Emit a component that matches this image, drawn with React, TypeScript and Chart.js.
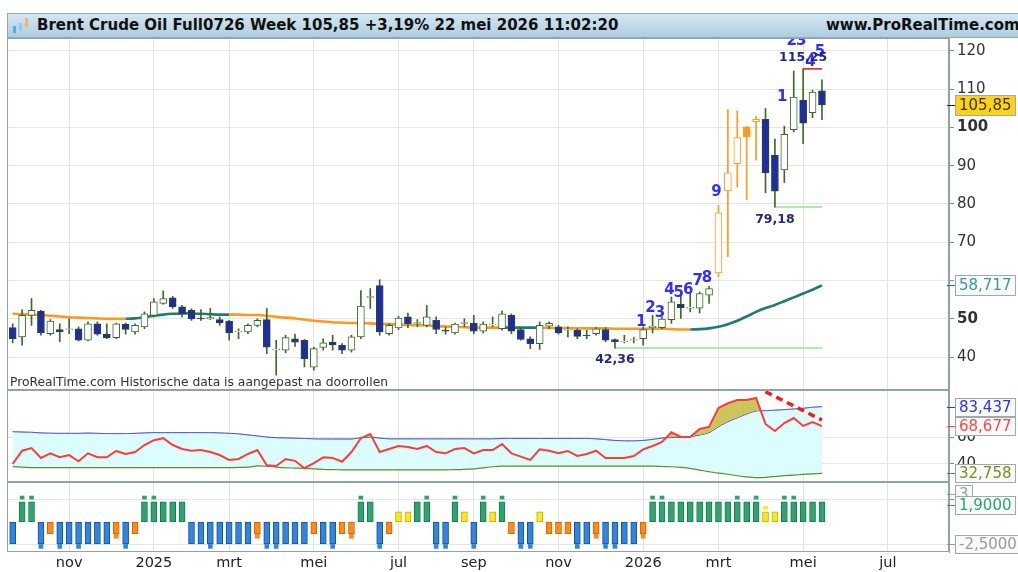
import React, { useEffect, useRef } from 'react';
import { Chart, registerables } from 'chart.js';

Chart.register(...registerables);

const FONT = "'DejaVu Sans', 'Liberation Sans', sans-serif";

// ---------- time axis (weekly bars) ----------
const firstWeek = Date.UTC(2024, 8, 23);
const slotCount = 100;
const monthNames = ['jan', 'feb', 'mrt', 'apr', 'mei', 'jun', 'jul', 'aug', 'sep', 'okt', 'nov', 'dec'];
const weekDates = Array.from({ length: slotCount }, (_, i) => new Date(firstWeek + i * 7 * 86400000));
const weekLabels = weekDates.map((d) => d.toISOString().slice(0, 10));

// ---------- price (weekly OHLC) ----------
const opens = [47.7, 45.3, 50.9, 52.0, 46.1, 47.2, 47.2, 47.4, 44.4, 48.7,
  46.0, 45.1, 48.6, 46.6, 47.9, 50.9, 54.0, 55.5, 53.1, 52.2,
  50.2, 50.0, 49.8, 49.4, 46.6, 46.6, 48.3, 49.8, 41.9, 41.8,
  44.8, 44.4, 37.4, 42.5, 43.9, 43.1, 41.8, 45.3, 55.6, 58.7,
  46.1, 47.6, 50.5, 48.8, 48.3, 49.6, 47.0, 46.3, 48.8, 48.9,
  46.8, 48.4, 47.4, 50.9, 47.2, 44.8, 43.5, 48.1, 47.9, 47.0,
  47.0, 45.7, 46.1, 47.2, 44.6, 44.0, 44.4, 44.8, 47.7, 47.7,
  49.8, 53.8, 52.8, 52.8, 56.2, 62.0, 83.4, 90.5, 100.1, 101.5,
  102.1, 92.7, 88.9, 99.4, 107.1, 103.8, 109.5];
const highs = [48.7, 52.4, 55.3, 52.2, 49.8, 48.7, 50.0, 47.9, 49.2, 49.2,
  48.7, 48.9, 48.9, 48.7, 51.8, 55.3, 57.3, 55.9, 53.5, 52.6,
  52.4, 52.7, 50.5, 49.6, 47.4, 48.7, 50.0, 52.7, 44.4, 45.7,
  46.0, 44.6, 42.6, 44.8, 45.7, 43.5, 45.7, 57.4, 57.9, 60.2,
  48.7, 50.7, 51.5, 49.8, 53.5, 50.5, 47.9, 48.9, 50.0, 50.9,
  49.2, 50.5, 52.0, 51.3, 47.7, 45.3, 49.2, 49.2, 48.3, 47.9,
  47.4, 47.0, 47.7, 47.7, 44.8, 45.7, 45.2, 47.9, 50.9, 50.5,
  55.7, 56.6, 56.6, 57.0, 58.5, 79.6, 104.6, 104.3, 100.3, 102.9,
  104.9, 96.9, 100.3, 114.7, 115.25, 109.7, 112.4];
const lows = [43.7, 43.1, 48.3, 45.7, 45.7, 44.0, 46.1, 44.2, 44.2, 45.7,
  44.8, 44.8, 46.0, 46.0, 47.4, 50.5, 53.8, 52.7, 50.5, 49.6,
  49.6, 49.8, 48.3, 44.4, 44.8, 46.1, 47.9, 40.9, 35.3, 41.1,
  42.8, 37.4, 36.6, 41.8, 41.8, 40.9, 41.3, 44.8, 52.7, 45.7,
  45.7, 47.2, 47.7, 47.9, 47.9, 46.1, 46.0, 46.0, 47.9, 46.1,
  46.3, 47.9, 47.0, 46.1, 44.4, 42.2, 42.0, 47.4, 46.0, 45.3,
  44.8, 44.8, 45.7, 44.0, 42.36, 43.7, 43.7, 43.1, 46.3, 47.4,
  48.8, 50.1, 51.8, 51.5, 54.0, 60.9, 66.2, 84.4, 81.1, 91.4,
  82.9, 79.18, 85.6, 98.8, 95.7, 102.5, 102.0];
const closes = [44.8, 50.9, 52.2, 46.3, 49.4, 46.6, 47.4, 44.4, 48.7, 46.0,
  45.1, 48.7, 47.2, 48.3, 51.3, 54.4, 55.3, 53.1, 51.3, 50.0,
  50.0, 50.3, 48.9, 46.3, 46.8, 48.3, 49.6, 42.6, 42.1, 45.1,
  43.9, 39.6, 42.2, 43.7, 43.2, 41.8, 45.3, 53.3, 55.8, 46.6,
  48.3, 50.2, 48.7, 49.0, 50.5, 47.2, 46.8, 48.6, 49.0, 46.8,
  48.6, 48.6, 51.3, 46.8, 44.6, 43.5, 48.3, 48.8, 46.3, 47.2,
  45.4, 45.5, 47.4, 44.4, 44.0, 44.1, 44.6, 47.2, 48.1, 49.9,
  54.4, 52.9, 53.0, 56.6, 57.9, 77.7, 88.1, 97.3, 97.5, 102.1,
  88.1, 83.3, 98.2, 107.9, 101.1, 109.2, 105.85];
const exhaustionBars = [75, 76, 77, 78, 79];

// moving average and its trend colouring (1 = rising segment)
const movingAverage = [51.3, 51.2, 51.1, 51.0, 50.8, 50.6, 50.4, 50.3, 50.2, 50.1,
  50.0, 50.0, 50.0, 50.1, 50.4, 50.8, 51.1, 51.3, 51.4, 51.4,
  51.3, 51.2, 51.1, 51.1, 51.1, 51.0, 51.0, 50.8, 50.5, 50.3,
  50.1, 49.8, 49.5, 49.3, 49.1, 49.0, 48.9, 48.9, 48.8, 48.7,
  48.6, 48.5, 48.4, 48.3, 48.3, 48.1, 48.0, 47.9, 47.8, 47.7,
  47.7, 47.7, 47.7, 47.7, 47.7, 47.7, 47.7, 47.6, 47.6, 47.6,
  47.5, 47.5, 47.5, 47.5, 47.4, 47.4, 47.4, 47.4, 47.4, 47.4,
  47.3, 47.2, 47.2, 47.3, 47.5, 47.9, 48.6, 49.5, 50.6, 51.8,
  52.8, 53.6, 54.6, 55.6, 56.6, 57.6, 58.717];
const maRising = [0, 0, 0, 0, 0, 0, 0, 0, 0, 0,
  0, 0, 1, 1, 1, 1, 1, 1, 1, 1,
  1, 1, 1, 0, 0, 0, 0, 0, 0, 0,
  0, 0, 0, 0, 0, 0, 0, 0, 0, 0,
  0, 0, 0, 0, 0, 0, 0, 0, 0, 0,
  0, 0, 1, 1, 1, 1, 0, 0, 0, 0,
  0, 0, 0, 0, 0, 0, 0, 0, 0, 0,
  0, 0, 1, 1, 1, 1, 1, 1, 1, 1,
  1, 1, 1, 1, 1, 1, 0];

// TD-style counts above the candles
const countIdx = [67, 68, 69, 70, 71, 72, 73, 74, 75, 82, 83, 84, 85, 86];
const countText = ['1', '2', '3', '4', '5', '6', '7', '8', '9', '1', '2', '3', '4', '5'];
const countPrice = [49.2, 52.8, 51.6, 57.5, 56.6, 57.5, 59.9, 60.6, 83.1, 107.9, 122.6, 122.6, 117.0, 119.7];

// support / resistance levels
const levelFrom = [64, 81, 84];
const levelValue = [42.36, 79.18, 115.25];
const levelColor = ['#93e593', '#93e593', '#e23a3a'];
const levelLabelPrice = [39.2, 75.8, 118.2];

// ---------- RSI panel ----------
const rsi = [40, 50, 52, 44.5, 48, 45, 46.7, 42, 48, 45,
  45, 49.8, 47.5, 49, 54.3, 58, 59.5, 54.3, 51.3, 50,
  50.5, 49, 46.7, 43, 43.7, 47.5, 50.5, 39, 38.4, 43.7,
  42.3, 36.7, 40.5, 45, 44.5, 41.6, 49, 59.5, 62.7, 49,
  51.3, 53.6, 52.8, 51.3, 53.6, 49, 48, 51.3, 52, 48,
  50.5, 50.5, 55, 48, 45.5, 43, 51, 50, 48, 49.8,
  46, 47.5, 50, 44.5, 44.5, 44.5, 46, 51, 53.6, 56.6,
  64, 60.4, 60.4, 66.5, 68, 82.4, 86, 88.5, 88.5, 90,
  70.3, 65, 71, 74.8, 68.8, 71.8, 68.677];
const rsiUpper = [64.4, 64.2, 64.0, 63.5, 63.3, 63.2, 63.2, 63.2, 63.4, 63.2,
  63.0, 63.0, 63.0, 63.2, 63.5, 63.7, 63.7, 63.7, 63.7, 63.7,
  63.7, 63.7, 63.5, 63.2, 62.8, 62.0, 61.2, 60.4, 59.9, 59.7,
  59.5, 59.3, 59.0, 58.9, 58.9, 58.9, 58.9, 59.8, 60.3, 59.6,
  59.0, 59.0, 59.0, 59.0, 59.0, 59.0, 59.0, 59.0, 59.0, 59.0,
  59.0, 59.0, 59.3, 59.3, 59.3, 59.3, 59.3, 59.3, 59.3, 59.3,
  59.3, 59.3, 59.0, 58.4, 57.8, 57.5, 57.5, 57.8, 58.6, 59.6,
  60.0, 60.2, 60.8, 61.9, 63.7, 68.2, 72.0, 75.0, 77.9, 80.2,
  80.4, 80.8, 81.2, 81.7, 82.2, 83.0, 83.437];
const rsiLower = [37.9, 37.6, 37.1, 37.1, 37.1, 37.1, 37.1, 37.1, 37.1, 37.1,
  37.1, 37.1, 37.1, 37.1, 37.1, 37.1, 37.1, 37.1, 37.1, 37.1,
  37.1, 37.1, 37.1, 37.1, 37.3, 37.5, 38.5, 38.2, 37.5, 37.0,
  36.8, 36.6, 36.2, 35.8, 35.6, 35.5, 35.5, 35.5, 35.5, 35.5,
  35.5, 35.5, 35.5, 35.5, 35.5, 35.5, 35.5, 35.6, 35.8, 36.2,
  37.0, 37.8, 38.3, 38.3, 38.3, 38.3, 38.3, 38.3, 38.3, 38.3,
  38.3, 38.3, 38.3, 38.3, 38.3, 38.3, 38.3, 38.3, 38.3, 38.0,
  37.8, 37.3, 36.6, 35.3, 34.0, 33.0, 32.1, 31.0, 30.1, 29.5,
  29.8, 30.4, 31.0, 31.5, 32.0, 32.4, 32.758];
const divergenceIdx = [80, 86];
const divergenceValue = [94.8, 73.3];

// ---------- trend histogram panel ----------
const histValues = [-2.5, 2.3, 2.3, -2.5, -1.35, -2.5, -2.5, -2.5, -2.5, -2.5,
  -2.5, -1.35, -2.5, -1.35, 2.3, 2.3, 2.3, 2.3, 2.3, -2.5,
  -2.5, -2.5, -2.5, -2.5, -2.5, -2.5, -1.35, -2.5, -2.5, -2.5,
  -2.5, -2.5, -1.35, -2.5, -2.5, -1.35, -1.35, 2.3, 2.3, -2.5,
  -1.35, 1.15, 1.15, 2.3, 2.3, -2.5, -2.5, 2.3, 1.15, -2.5,
  2.3, 1.15, 2.3, -1.35, -2.5, -2.5, 1.15, -1.35, -1.35, -1.35,
  -2.5, -2.5, -1.35, -2.5, -2.5, -2.5, -2.5, -1.35, 2.3, 2.3,
  2.3, 2.3, 2.3, 2.3, 2.3, 2.3, 2.3, 2.3, 2.3, 2.3,
  1.15, 1.15, 2.3, 2.3, 2.3, 2.3, 2.3];
const histMarks = [0, 1, 1, 1, 0, 1, 0, 1, 0, 0,
  0, 1, 1, 0, 1, 1, 0, 0, 0, 0,
  0, 1, 0, 0, 0, 0, 1, 1, 1, 0,
  0, 0, 0, 0, 1, 0, 1, 1, 0, 1,
  0, 0, 0, 0, 1, 1, 1, 1, 0, 1,
  1, 0, 1, 0, 1, 1, 0, 0, 0, 0,
  1, 0, 1, 1, 1, 0, 0, 1, 1, 1,
  0, 0, 0, 0, 0, 0, 0, 1, 0, 1,
  1, 0, 1, 1, 0, 0, 0];
const histSignal = 1.9;
const histFloor = -2.5;
const histCap = 3;

// ---------- axis ticks ----------
const priceTicks = [40, 50, 60, 70, 80, 90, 100, 110, 120];
const rsiTicks = [40, 50, 60, 80];
const histTicks = [-2.5, 0, 2.5];

const LAST = closes.length - 1;
const fmt = (v: number, d: number) => v.toFixed(d).replace('.', ',');

function monthLabel(i: number): string | null {
  if (i === 0) return null;
  const d = weekDates[i];
  const p = weekDates[i - 1];
  const m = d.getUTCMonth();
  if (m === p.getUTCMonth() || m % 2 !== 0) return null;
  return m === 0 ? String(d.getUTCFullYear()) : monthNames[m];
}

const ORANGE = '#ff9a1f';
const TEAL = '#1f7c70';
const UP_BORDER = '#3d6a2b';
const DOWN_FILL = '#1f2da3';
const DOWN_BORDER = '#2c4a28';

function histColor(v: number) {
  if (v >= 2) return ['#2ea56f', '#177a4b'];
  if (v > 0) return ['#ffe81c', '#c9a800'];
  if (v > -2) return ['#ff8b1d', '#cf6200'];
  return ['#2f86dc', '#1a4f9a'];
}

const overlayPlugin = {
  id: 'overlay',
  afterDatasetsDraw(chart: any) {
    const { ctx, chartArea, scales } = chart;
    const xs = scales.x;
    const yp = scales.yPrice;
    ctx.save();
    ctx.beginPath();
    ctx.rect(chartArea.left, yp.top, chartArea.right - chartArea.left, yp.bottom - yp.top);
    ctx.clip();
    ctx.textAlign = 'center';
    ctx.textBaseline = 'middle';
    ctx.font = `bold 15px ${FONT}`;
    ctx.fillStyle = '#2f2fff';
    countIdx.forEach((idx, k) => {
      ctx.fillText(countText[k], xs.getPixelForValue(idx) - 2, yp.getPixelForValue(countPrice[k]));
    });
    ctx.font = `bold 12.5px ${FONT}`;
    ctx.fillStyle = '#26267e';
    levelFrom.forEach((idx, k) => {
      ctx.fillText(fmt(levelValue[k], 2), xs.getPixelForValue(idx), yp.getPixelForValue(levelLabelPrice[k]));
    });
    ctx.textAlign = 'left';
    ctx.textBaseline = 'alphabetic';
    ctx.font = `12.3px ${FONT}`;
    ctx.fillStyle = '#333';
    ctx.fillText('ProRealTime.com Historische data is aangepast na doorrollen', chartArea.left + 2, yp.bottom - 4);
    ctx.restore();
  },
  afterDraw(chart: any) {
    const { ctx, chartArea, scales } = chart;
    ctx.save();
    ctx.strokeStyle = '#8ea3ae';
    ctx.lineWidth = 1;
    ['yPrice', 'yRsi', 'yHist'].forEach((id) => {
      const s = scales[id];
      ctx.strokeRect(Math.round(chartArea.left) - 0.5, Math.round(s.top) + 0.5,
        Math.round(chartArea.right - chartArea.left), Math.round(s.bottom - s.top) - 1);
    });
    const boxes = [
      { axis: 'yPrice', value: closes[LAST], text: fmt(closes[LAST], 2), fill: '#ffd21a', color: '#3b3300', mark: '#222', h: 20 },
      { axis: 'yPrice', value: movingAverage[LAST], text: fmt(movingAverage[LAST], 3), fill: '#f8fafa', color: '#3a9a9a', mark: TEAL, h: 20 },
      { axis: 'yRsi', value: rsiUpper[LAST], text: fmt(rsiUpper[LAST], 3), fill: '#f8fafa', color: '#3232e6', mark: '#3232e6', h: 18 },
      { axis: 'yRsi', value: rsi[LAST], text: fmt(rsi[LAST], 3), fill: '#f8fafa', color: '#ff4747', mark: '#ff4747', h: 18 },
      { axis: 'yRsi', value: rsiLower[LAST], text: fmt(rsiLower[LAST], 3), fill: '#f8fafa', color: '#7b8b1e', mark: '#5e8c2e', h: 18 },
      { axis: 'yHist', value: histCap + 0.2, text: String(histCap), fill: '#f8fafa', color: '#9a9a9a', mark: '#999', h: 18 },
      { axis: 'yHist', value: histSignal, text: fmt(histSignal, 4), fill: '#f8fafa', color: '#2ea36f', mark: '#2ea36f', h: 18 },
      { axis: 'yHist', value: histFloor, text: fmt(histFloor, 4), fill: '#f8fafa', color: '#9a9a9a', mark: '#999', h: 18 },
    ];
    ctx.font = `15px ${FONT}`;
    ctx.textBaseline = 'middle';
    ctx.textAlign = 'left';
    boxes.forEach((b) => {
      const s = scales[b.axis];
      const py = Math.round(s.getPixelForValue(b.value));
      const x0 = Math.round(s.left) + 6;
      const w = Math.ceil(ctx.measureText(b.text).width) + 7;
      const half = b.h / 2;
      ctx.strokeStyle = b.mark;
      ctx.beginPath();
      ctx.moveTo(s.left - 2, py + 0.5);
      ctx.lineTo(x0, py + 0.5);
      ctx.stroke();
      ctx.fillStyle = b.fill;
      ctx.fillRect(x0 + 0.5, py - half + 0.5, w, b.h);
      ctx.strokeStyle = '#9fa9ae';
      ctx.strokeRect(x0 + 0.5, py - half + 0.5, w, b.h);
      ctx.fillStyle = b.color;
      ctx.fillText(b.text, x0 + 4, py + 1);
    });
    ctx.restore();
  },
};

function buildConfig(): any {
  const n = closes.length;
  const bodyFill: string[] = [];
  const bodyBorder: string[] = [];
  const wickColor: string[] = [];
  for (let i = 0; i < n; i++) {
    const up = closes[i] >= opens[i];
    const ex = exhaustionBars.includes(i);
    bodyFill.push(ex ? (up ? '#ffffff' : ORANGE) : (up ? '#ffffff' : DOWN_FILL));
    bodyBorder.push(ex ? ORANGE : (up ? UP_BORDER : DOWN_BORDER));
    wickColor.push(ex ? ORANGE : UP_BORDER);
  }
  const levelSets = levelFrom.map((from, k) => ({
    type: 'line',
    yAxisID: 'yPrice',
    data: [{ x: weekLabels[from], y: levelValue[k] }, { x: weekLabels[LAST], y: levelValue[k] }],
    borderColor: levelColor[k],
    borderWidth: 1.6,
    pointRadius: 0,
    order: 4,
  }));

  const datasets: any[] = [
    {
      type: 'bar', yAxisID: 'yPrice', order: 1,
      data: opens.map((o, i) => [o, closes[i]]),
      backgroundColor: bodyFill, borderColor: bodyBorder, borderWidth: 1, borderSkipped: false,
      barThickness: 7, grouped: false,
    },
    {
      type: 'bar', yAxisID: 'yPrice', order: 2,
      data: lows.map((l, i) => [l, highs[i]]),
      backgroundColor: wickColor, borderWidth: 0, barThickness: 1, grouped: false,
    },
    {
      type: 'line', yAxisID: 'yPrice', order: 3,
      data: movingAverage,
      borderColor: ORANGE, borderWidth: 2.6, pointRadius: 0, tension: 0.3,
      segment: { borderColor: (c: any) => (maRising[c.p0DataIndex] ? TEAL : ORANGE) },
    },
    ...levelSets,
    {
      type: 'line', yAxisID: 'yRsi', order: 8,
      data: rsiUpper, borderColor: '#2b2bd9', borderWidth: 1, pointRadius: 0, tension: 0.2,
      fill: { target: 7 }, backgroundColor: '#dcfdfd',
    },
    {
      type: 'line', yAxisID: 'yRsi', order: 7,
      data: rsiLower, borderColor: '#5e8c2e', borderWidth: 1.2, pointRadius: 0, tension: 0.2, fill: false,
    },
    {
      type: 'line', yAxisID: 'yRsi', order: 6,
      data: rsi, borderColor: '#ff3b3b', borderWidth: 2, pointRadius: 0, tension: 0,
      fill: { target: 6, above: '#cbc55c', below: 'rgba(0,0,0,0)' },
    },
    {
      type: 'line', yAxisID: 'yRsi', order: 5,
      data: divergenceIdx.map((idx, k) => ({ x: weekLabels[idx], y: divergenceValue[k] })),
      borderColor: '#ff1a1a', borderWidth: 3.5, borderDash: [7, 5], pointRadius: 0, fill: false,
    },
    {
      type: 'bar', yAxisID: 'yHist', order: 9,
      data: histValues,
      backgroundColor: histValues.map((v) => histColor(v)[0]),
      borderColor: histValues.map((v) => histColor(v)[1]),
      borderWidth: 1, borderSkipped: false, barThickness: 6, grouped: false,
    },
    {
      type: 'bar', yAxisID: 'yHist', order: 10,
      data: histValues.map((v, i) => (histMarks[i] ? (v > 0 ? [v + 0.3, v + 0.65] : [v - 0.05, v - 0.5]) : null)),
      backgroundColor: histValues.map((v) => histColor(v)[0]),
      borderWidth: 0, barThickness: 4, grouped: false,
    },
  ];

  const axisFont = (bold: boolean) => ({ family: FONT, size: 15, weight: bold ? 'bold' : 'normal' });
  const rightAxis = {
    type: 'linear',
    position: 'right',
    stack: 'panels',
    offset: false,
    border: { color: '#8ea3ae' },
    afterFit: (s: any) => { s.width = 69; },
  };

  return {
    type: 'bar',
    data: { labels: weekLabels, datasets },
    options: {
      animation: false,
      responsive: false,
      devicePixelRatio: 1,
      events: [],
      layout: { padding: { left: 8, top: 38, right: 0, bottom: 0 } },
      plugins: { legend: { display: false }, tooltip: { enabled: false }, title: { display: false } },
      scales: {
        x: {
          type: 'category',
          offset: true,
          grid: { offset: false, color: '#e3e3e3', drawTicks: false },
          border: { display: false },
          ticks: {
            autoSkip: false, maxRotation: 0, minRotation: 0, padding: 3, color: '#222',
            callback: (_v: any, i: number) => monthLabel(i),
            font: (c: any) => {
              const lab = monthLabel(c.index);
              return { family: FONT, size: 14.5, weight: lab && /^\d/.test(lab) ? 'bold' : 'normal' };
            },
          },
          afterFit: (s: any) => { s.height = 20; },
        },
        yPrice: {
          ...rightAxis,
          stackWeight: 352,
          min: 31.41, max: 123.32,
          afterBuildTicks: (s: any) => { s.ticks = priceTicks.map((v) => ({ value: v })); },
          grid: { color: '#e6e6e6', tickColor: '#7d8e97', tickLength: 5 },
          ticks: {
            padding: 3, color: '#333',
            callback: (v: any) => (v === 60 ? '' : String(v)),
            font: (c: any) => axisFont(c.tick && (c.tick.value === 50 || c.tick.value === 100)),
          },
        },
        yRsi: {
          ...rightAxis,
          stackWeight: 92,
          min: 26.23, max: 96.09,
          afterBuildTicks: (s: any) => { s.ticks = rsiTicks.map((v) => ({ value: v })); },
          grid: {
            color: (c: any) => (c.tick && c.tick.value === 50 ? '#555' : '#e6e6e6'),
            lineWidth: (c: any) => (c.tick && c.tick.value === 50 ? 1.6 : 1),
            tickColor: '#7d8e97', tickLength: 5,
          },
          ticks: {
            padding: 3, color: '#333',
            callback: (v: any) => (v === 50 ? '' : String(v)),
            font: () => axisFont(false),
          },
        },
        yHist: {
          ...rightAxis,
          stackWeight: 70,
          min: -3.409, max: 4.545,
          afterBuildTicks: (s: any) => { s.ticks = histTicks.map((v) => ({ value: v })); },
          grid: { color: '#e6e6e6', tickColor: '#7d8e97', tickLength: 5 },
          ticks: {
            padding: 3, color: '#111',
            callback: (v: any) => (v === 0 ? '0' : ''),
            font: () => axisFont(true),
          },
        },
      },
    },
    plugins: [overlayPlugin],
  };
}

export default function App() {
  const ref = useRef<HTMLCanvasElement>(null);
  useEffect(() => {
    Chart.defaults.font.family = FONT;
    const chart = new Chart(ref.current as HTMLCanvasElement, buildConfig());
    return () => chart.destroy();
  }, []);
  return (
    <div style={{ position: 'fixed', left: 0, top: 0, width: 1018, height: 572, background: '#fff', overflow: 'hidden' }}>
      <canvas ref={ref} width={1018} height={572} style={{ position: 'absolute', left: 0, top: 0, width: 1018, height: 572 }} />
      <div
        style={{
          position: 'absolute', left: 7, top: 13, width: 1020, height: 23,
          background: 'linear-gradient(#d4e7f1, #aecde0)',
          borderTop: '1px solid #8fa8b5', borderBottom: '1px solid #8fa8b5', borderLeft: '1px solid #8fa8b5',
          font: `bold 15px ${FONT}`, lineHeight: '23px', color: '#111', whiteSpace: 'nowrap',
        }}
      >
        <span style={{ position: 'absolute', left: 5, top: 12, width: 3, height: 7, background: '#5aa9e6' }} />
        <span style={{ position: 'absolute', left: 11, top: 9, width: 3, height: 8, background: '#9cc7ea' }} />
        <span style={{ position: 'absolute', left: 17, top: 4, width: 3, height: 9, background: '#f3b26b' }} />
        <span style={{ position: 'absolute', left: 29, top: 0 }}>Brent Crude Oil Full0726 Week 105,85 +3,19% 22 mei 2026 11:02:20</span>
        <span style={{ position: 'absolute', left: 818, top: 0 }}>www.ProRealTime.com</span>
      </div>
    </div>
  );
}
